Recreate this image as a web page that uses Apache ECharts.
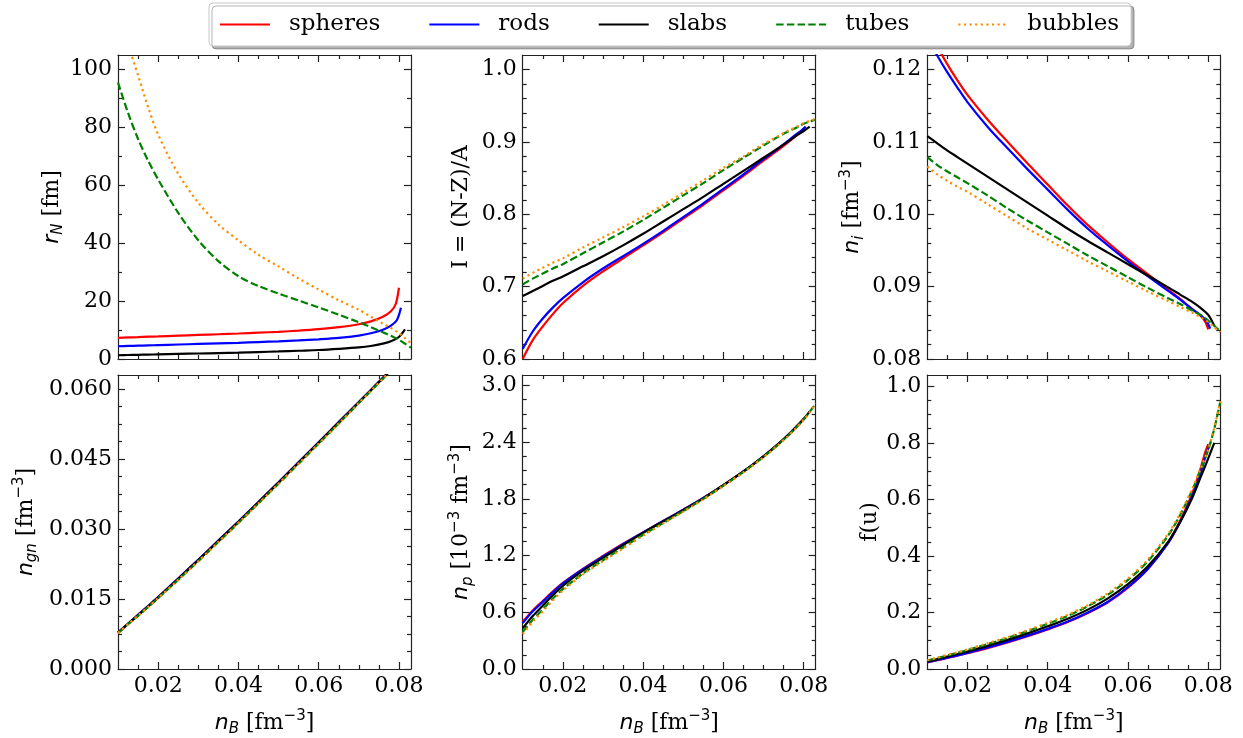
<!DOCTYPE html>
<html><head><meta charset="utf-8">
<script src="https://cdn.jsdelivr.net/npm/echarts@6/dist/echarts.min.js"></script>
<style>html,body{margin:0;padding:0;background:#fff}#c{width:1243px;height:738px}</style>
</head><body><div id="c"></div><script>
// ---------- DATA ----------
const seriesNames = ['spheres', 'rods', 'slabs', 'tubes', 'bubbles'];
const xTickLabels = [0.02, 0.04, 0.06, 0.08];

// baryon density n_B [fm^-3] sample points per series
const nB_spheres = [0.010,0.0125,0.015,0.0175,0.020,0.025,0.030,0.035,0.040,0.045,0.050,0.055,0.060,0.065,0.070,0.073,0.076,0.078,0.0792,0.0800];
const nB_rods    = [0.010,0.0125,0.015,0.0175,0.020,0.025,0.030,0.035,0.040,0.045,0.050,0.055,0.060,0.065,0.070,0.073,0.076,0.078,0.0795,0.0805];
const nB_slabs   = [0.010,0.0125,0.015,0.0175,0.020,0.025,0.030,0.035,0.040,0.045,0.050,0.055,0.060,0.065,0.070,0.073,0.076,0.078,0.0800,0.0815];
const nB_tubes   = [0.010,0.0125,0.015,0.0175,0.020,0.025,0.030,0.035,0.040,0.045,0.050,0.055,0.060,0.065,0.070,0.073,0.076,0.078,0.0800,0.0815,0.0830];
const nB_bubbles = [0.010,0.0125,0.015,0.0175,0.020,0.025,0.030,0.035,0.040,0.045,0.050,0.055,0.060,0.065,0.070,0.073,0.076,0.078,0.0800,0.0815,0.0830];

// panel 1: r_N [fm]
const rN_spheres = [7.3,7.45,7.55,7.7,7.8,8.05,8.3,8.55,8.8,9.1,9.4,9.8,10.3,11.0,12.0,13.0,14.6,16.5,19.0,24.6];
const rN_rods    = [4.4,4.5,4.6,4.7,4.8,5.0,5.2,5.4,5.6,5.85,6.1,6.4,6.8,7.3,8.1,8.9,10.1,11.5,13.5,17.7];
const rN_slabs   = [1.3,1.38,1.45,1.52,1.6,1.75,1.9,2.05,2.2,2.4,2.6,2.85,3.1,3.5,4.0,4.5,5.3,6.1,7.6,10.2];
const rN_tubes   = [95.5,85,76,68.5,62,50.5,41,33.8,28.6,25.2,22.6,20.2,17.8,15.3,12.7,11.0,9.2,8.0,6.6,5.3,3.9];
const rN_bubbles = [125,109,98,87,77.5,64,54,46.5,41,36,32,27.8,24,20.3,17,14.6,12.2,10.7,9.0,7.2,5.5];

// panel 2: I = (N-Z)/A
const I_spheres = [0.600,0.626,0.645,0.662,0.677,0.701,0.721,0.739,0.757,0.775,0.794,0.813,0.833,0.853,0.874,0.886,0.899,0.908,0.914,0.918];
const I_rods    = [0.614,0.638,0.656,0.671,0.684,0.706,0.725,0.742,0.759,0.777,0.796,0.815,0.835,0.855,0.876,0.888,0.901,0.910,0.916,0.921];
const I_slabs   = [0.687,0.694,0.701,0.708,0.714,0.728,0.742,0.757,0.773,0.790,0.807,0.824,0.842,0.860,0.878,0.889,0.900,0.908,0.915,0.921];
const I_tubes   = [0.703,0.711,0.718,0.725,0.731,0.746,0.761,0.776,0.792,0.809,0.826,0.843,0.861,0.878,0.895,0.905,0.914,0.919,0.925,0.928,0.931];
const I_bubbles = [0.711,0.719,0.726,0.733,0.739,0.754,0.768,0.782,0.797,0.813,0.830,0.847,0.864,0.880,0.897,0.906,0.915,0.920,0.926,0.929,0.932];

// panel 3: n_i [fm^-3]
const ni_spheres = [0.1260,0.1232,0.1207,0.1185,0.1165,0.1131,0.1100,0.1070,0.1041,0.1012,0.0985,0.0961,0.0938,0.0917,0.0896,0.0883,0.0869,0.0860,0.0852,0.0841];
const ni_rods    = [0.1245,0.1219,0.1196,0.1175,0.1155,0.1121,0.1091,0.1062,0.1034,0.1006,0.0980,0.0957,0.0935,0.0914,0.0894,0.0882,0.0869,0.0861,0.0853,0.0842];
const ni_slabs   = [0.1108,0.1098,0.1088,0.1079,0.1070,0.1052,0.1034,0.1016,0.0998,0.0980,0.0963,0.0947,0.0931,0.0915,0.0899,0.0889,0.0879,0.0871,0.0861,0.0846];
const ni_tubes   = [0.1079,0.1068,0.1059,0.1051,0.1043,0.1026,0.1008,0.0991,0.0975,0.0959,0.0943,0.0928,0.0913,0.0898,0.0884,0.0876,0.0867,0.0861,0.0853,0.0846,0.0838];
const ni_bubbles = [0.1066,0.1055,0.1046,0.1038,0.1031,0.1014,0.0997,0.0980,0.0965,0.0950,0.0935,0.0921,0.0907,0.0893,0.0880,0.0872,0.0864,0.0858,0.0851,0.0844,0.0837];

// panel 4: n_gn [fm^-3]
const ngn_spheres = [0.0078,0.0097,0.0116,0.0135,0.0154,0.0194,0.0234,0.0275,0.0316,0.0358,0.0400,0.0443,0.0486,0.0529,0.0572,0.0598,0.0624,0.0641,0.0651,0.0658];
const ngn_rods    = [0.0078,0.0097,0.0116,0.0135,0.0154,0.0194,0.0234,0.0275,0.0316,0.0358,0.0400,0.0443,0.0486,0.0529,0.0572,0.0598,0.0624,0.0641,0.0654,0.0662];
const ngn_slabs   = [0.0078,0.0097,0.0115,0.0134,0.0153,0.0193,0.0233,0.0274,0.0315,0.0357,0.0399,0.0442,0.0485,0.0528,0.0571,0.0597,0.0623,0.0640,0.0657,0.0670];
const ngn_tubes   = [0.0077,0.0096,0.0114,0.0133,0.0152,0.0191,0.0231,0.0272,0.0313,0.0355,0.0397,0.0440,0.0483,0.0526,0.0570,0.0596,0.0622,0.0639,0.0656,0.0669,0.0682];
const ngn_bubbles = [0.0077,0.0096,0.0114,0.0133,0.0152,0.0191,0.0231,0.0272,0.0313,0.0355,0.0397,0.0440,0.0483,0.0526,0.0570,0.0596,0.0622,0.0639,0.0656,0.0669,0.0682];

// panel 5: n_p [10^-3 fm^-3]
const np_spheres = [0.50,0.62,0.72,0.82,0.91,1.06,1.195,1.325,1.445,1.565,1.685,1.81,1.945,2.09,2.25,2.355,2.47,2.555,2.61,2.645];
const np_rods    = [0.485,0.61,0.71,0.81,0.905,1.055,1.19,1.32,1.445,1.565,1.685,1.81,1.945,2.09,2.25,2.355,2.47,2.555,2.62,2.665];
const np_slabs   = [0.43,0.56,0.67,0.78,0.88,1.04,1.175,1.31,1.44,1.56,1.68,1.805,1.945,2.09,2.25,2.355,2.47,2.555,2.645,2.725];
const np_tubes   = [0.39,0.52,0.63,0.745,0.845,1.01,1.15,1.285,1.42,1.545,1.67,1.80,1.94,2.085,2.245,2.35,2.465,2.55,2.64,2.72,2.81];
const np_bubbles = [0.37,0.50,0.61,0.725,0.83,1.00,1.14,1.275,1.41,1.54,1.665,1.795,1.935,2.08,2.24,2.345,2.46,2.545,2.635,2.715,2.81];

// panel 6: f(u)
const fu_spheres = [0.023,0.031,0.039,0.047,0.056,0.074,0.094,0.116,0.140,0.166,0.198,0.236,0.288,0.355,0.447,0.525,0.620,0.705,0.765,0.795];
const fu_rods    = [0.024,0.032,0.040,0.048,0.057,0.076,0.096,0.118,0.142,0.168,0.200,0.238,0.290,0.355,0.445,0.520,0.612,0.690,0.760,0.800];
const fu_slabs   = [0.027,0.035,0.044,0.053,0.062,0.082,0.103,0.126,0.151,0.178,0.210,0.250,0.300,0.364,0.450,0.520,0.605,0.675,0.745,0.800];
const fu_tubes   = [0.030,0.039,0.048,0.057,0.067,0.088,0.110,0.134,0.160,0.188,0.222,0.263,0.315,0.382,0.472,0.545,0.632,0.702,0.775,0.850,0.945];
const fu_bubbles = [0.031,0.040,0.050,0.059,0.069,0.091,0.113,0.137,0.164,0.192,0.226,0.268,0.320,0.388,0.478,0.550,0.637,0.706,0.778,0.853,0.948];

// y tick labels per panel
const yTicks_rN  = [0, 20, 40, 60, 80, 100];
const yTicks_I   = [0.6, 0.7, 0.8, 0.9, 1.0];
const yTicks_ni  = [0.08, 0.09, 0.10, 0.11, 0.12];
const yTicks_ngn = [0, 0.015, 0.030, 0.045, 0.060];
const yTicks_np  = [0, 0.6, 1.2, 1.8, 2.4, 3.0];
const yTicks_fu  = [0, 0.2, 0.4, 0.6, 0.8, 1.0];

// ---------- BUILD ----------
const xs = [nB_spheres, nB_rods, nB_slabs, nB_tubes, nB_bubbles];
const panelData = [
  [rN_spheres, rN_rods, rN_slabs, rN_tubes, rN_bubbles],
  [I_spheres, I_rods, I_slabs, I_tubes, I_bubbles],
  [ni_spheres, ni_rods, ni_slabs, ni_tubes, ni_bubbles],
  [ngn_spheres, ngn_rods, ngn_slabs, ngn_tubes, ngn_bubbles],
  [np_spheres, np_rods, np_slabs, np_tubes, np_bubbles],
  [fu_spheres, fu_rods, fu_slabs, fu_tubes, fu_bubbles]
];

const SERIF = 'DejaVu Serif';
const SANS = 'DejaVu Sans';
const rich = {
  t:   {fontFamily: SERIF, fontSize: 22, lineHeight: 28, color: '#000'},
  i:   {fontFamily: SANS, fontStyle: 'italic', fontSize: 22, lineHeight: 28, color: '#000'},
  sub: {fontFamily: SANS, fontStyle: 'italic', fontSize: 15, lineHeight: 12, verticalAlign: 'bottom', color: '#000'},
  sup: {fontFamily: SANS, fontSize: 15, lineHeight: 12, verticalAlign: 'top', color: '#000'}
};
const xName = '{i|n}{sub|B}{t| [fm}{sup|−3}{t|]}';

const W = 293, H = 304;
const panels = [
  {left: 118,   top: 55,  ymin: 0,    ymax: 105,   ticks: yTicks_rN,  minor: 10,      dec: 0, name: '{i|r}{sub|N}{t| [fm]}', gap: 48},
  {left: 522.7, top: 55,  ymin: 0.6,  ymax: 1.02,  ticks: yTicks_I,   minor: 0.02,    dec: 1, name: '{t|I = (N-Z)/A}', gap: 47},
  {left: 927.3, top: 55,  ymin: 0.08, ymax: 0.122, ticks: yTicks_ni,  minor: 0.002,   dec: 2, name: '{i|n}{sub|i}{t| [fm}{sup|−3}{t|]}', gap: 61},
  {left: 118,   top: 375, ymin: 0,    ymax: 0.063, ticks: yTicks_ngn, minor: 0.00375, dec: 3, name: '{i|n}{sub|gn}{t| [fm}{sup|−3}{t|]}', gap: 78},
  {left: 522.7, top: 375, ymin: 0,    ymax: 3.11,  ticks: yTicks_np,  minor: 0.15,    dec: 1, name: '{i|n}{sub|p}{t| [10}{sup|−3}{t| fm}{sup|−3}{t|]}', gap: 47},
  {left: 927.3, top: 375, ymin: 0,    ymax: 1.04,  ticks: yTicks_fu,  minor: 0.05,    dec: 1, name: '{t|f(u)}', gap: 43}
];
const XMIN = 0.01, XMAX = 0.083;

function minorList(min, max, step, majors) {
  const out = [];
  for (let k = 1; ; k++) {
    const v = +(min + k * step).toFixed(6);
    if (v >= max - 1e-9) break;
    if (majors.some(m => Math.abs(m - v) < step * 0.01)) continue;
    out.push(v);
  }
  return out;
}

const AX = '#222';
const lineS = {color: AX, width: 1.2};
const grids = [], xAxes = [], yAxes = [], series = [];
const styles = [
  {color: '#ff0000', type: 'solid'},
  {color: '#0000ff', type: 'solid'},
  {color: '#000000', type: 'solid'},
  {color: '#008000', type: [7.5, 3.2]},
  {color: '#ff8c00', type: [2.2, 3.4]}
];

panels.forEach((p, gi) => {
  grids.push({left: p.left, top: p.top, width: W, height: H, containLabel: false});
  const bottomRow = gi >= 3;
  const xMinors = minorList(XMIN, XMAX, 0.005, xTickLabels);
  const yMinors = minorList(p.ymin, p.ymax, p.minor, p.ticks);
  const base = {type: 'value', gridIndex: gi, min: XMIN, max: XMAX, splitLine: {show: false}};
  xAxes.push(Object.assign({}, base, {
    position: 'bottom',
    axisLine: {show: true, onZero: false, lineStyle: lineS},
    axisTick: {show: true, inside: true, length: 7, customValues: xTickLabels, lineStyle: lineS},
    axisLabel: {show: bottomRow, customValues: xTickLabels, formatter: v => v.toFixed(2), margin: 6,
      fontFamily: SERIF, fontSize: 22, color: '#000'},
    name: bottomRow ? xName : '', nameLocation: 'middle', nameGap: 40,
    nameTextStyle: {rich: rich}
  }));
  xAxes.push(Object.assign({}, base, {
    position: 'bottom', axisLine: {show: false, onZero: false},
    axisTick: {show: true, inside: true, length: 4, customValues: xMinors, lineStyle: lineS},
    axisLabel: {show: false}
  }));
  xAxes.push(Object.assign({}, base, {
    position: 'top', axisLine: {show: true, onZero: false, lineStyle: lineS},
    axisTick: {show: true, inside: true, length: 7, customValues: xTickLabels, lineStyle: lineS},
    axisLabel: {show: false}
  }));
  xAxes.push(Object.assign({}, base, {
    position: 'top', axisLine: {show: false, onZero: false},
    axisTick: {show: true, inside: true, length: 4, customValues: xMinors, lineStyle: lineS},
    axisLabel: {show: false}
  }));
  const ybase = {type: 'value', gridIndex: gi, min: p.ymin, max: p.ymax, splitLine: {show: false}};
  yAxes.push(Object.assign({}, ybase, {
    position: 'left',
    axisLine: {show: true, onZero: false, lineStyle: lineS},
    axisTick: {show: true, inside: true, length: 7, customValues: p.ticks, lineStyle: lineS},
    axisLabel: {show: true, customValues: p.ticks, formatter: v => v.toFixed(p.dec), margin: 6,
      fontFamily: SERIF, fontSize: 22, color: '#000'},
    name: p.name, nameLocation: 'middle', nameRotate: 90, nameGap: p.gap,
    nameTextStyle: {rich: rich}
  }));
  yAxes.push(Object.assign({}, ybase, {
    position: 'left', axisLine: {show: false, onZero: false},
    axisTick: {show: true, inside: true, length: 4, customValues: yMinors, lineStyle: lineS},
    axisLabel: {show: false}
  }));
  yAxes.push(Object.assign({}, ybase, {
    position: 'right', axisLine: {show: true, onZero: false, lineStyle: lineS},
    axisTick: {show: true, inside: true, length: 7, customValues: p.ticks, lineStyle: lineS},
    axisLabel: {show: false}
  }));
  yAxes.push(Object.assign({}, ybase, {
    position: 'right', axisLine: {show: false, onZero: false},
    axisTick: {show: true, inside: true, length: 4, customValues: yMinors, lineStyle: lineS},
    axisLabel: {show: false}
  }));

  seriesNames.forEach((nm, si) => {
    const ys = panelData[gi][si];
    series.push({
      name: nm, type: 'line', xAxisIndex: gi * 4, yAxisIndex: gi * 4,
      data: xs[si].map((x, i) => [x, ys[i]]),
      symbol: 'none', showSymbol: false, smooth: 0.3,
      clip: true, animation: false, silent: true,
      lineStyle: {color: styles[si].color, width: 2.2, type: styles[si].type, cap: 'butt'},
      itemStyle: {color: styles[si].color}
    });
  });
});

const chart = echarts.init(document.getElementById('c'), null, {renderer: 'canvas'});
chart.setOption({
  backgroundColor: '#fff',
  animation: false,
  legend: {
    data: seriesNames, top: 3, left: 209,
    padding: [10, 12, 10, 10],
    itemWidth: 50, itemHeight: 24, itemGap: 48,
    itemStyle: {opacity: 0},
    textStyle: {fontFamily: SERIF, fontSize: 23, color: '#000', padding: [0, 0, 0, 14]},
    backgroundColor: '#fff', borderColor: '#c8c8c8', borderWidth: 1, borderRadius: 4,
    shadowColor: 'rgba(0,0,0,0.3)', shadowOffsetX: 3, shadowOffsetY: 3, shadowBlur: 0,
    selectedMode: false
  },
  grid: grids, xAxis: xAxes, yAxis: yAxes, series: series
});
</script></body></html>
